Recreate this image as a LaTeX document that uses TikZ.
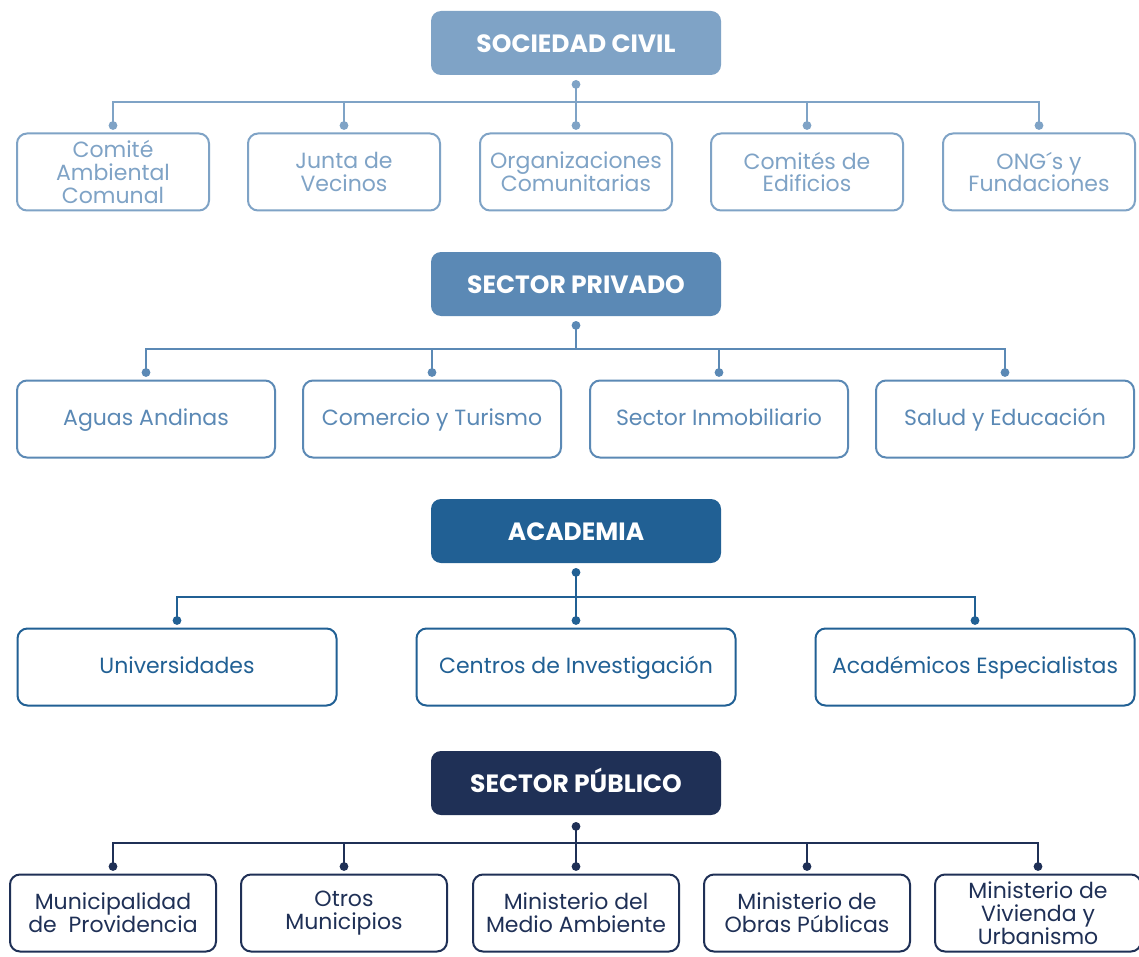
\documentclass[tikz,border=0pt]{standalone}
\usepackage{fontspec}
\setmainfont{Poppins}
\usetikzlibrary{positioning,shapes,arrows.meta,calc}

\definecolor{civil}{HTML}{7FA3C6}
\definecolor{privado}{HTML}{5B89B5}
\definecolor{academia}{HTML}{216094}
\definecolor{publico}{HTML}{1F3056}

\tikzset{
  head/.style={rounded corners=5pt, minimum width=145pt, minimum height=32pt,
    text=white, font=\fontsize{12.5}{14}\selectfont\bfseries, inner sep=0pt,
    text height=1.7ex, text depth=0pt},
  item/.style={draw, rounded corners=5pt, line width=1pt, fill=white,
    minimum height=38.5pt, align=center, inner sep=1pt,
    font=\fontsize{11}{11.4}\selectfont},
  single/.style={text height=1.6ex, text depth=0.45ex},
  lnk/.style={line width=1pt},
}

\begin{document}
\begin{tikzpicture}[x=0.5pt, y=-0.5pt]
				\useasboundingbox[fill=white] (0,0) rectangle (1139,957);

				% sociedad civil
				\node[head, fill=civil] (SC) at (576, 43) {SOCIEDAD CIVIL};
				\node[item, draw=civil, text=civil, minimum width=96pt] (SC1) at (113, 172) {Comité\\Ambiental\\Comunal};
				\node[item, draw=civil, text=civil, minimum width=96pt] (SC2) at (344, 172) {Junta de\\Vecinos};
				\node[item, draw=civil, text=civil, minimum width=96pt] (SC3) at (576, 172) {Organizaciones\\Comunitarias};
				\node[item, draw=civil, text=civil, minimum width=96pt] (SC4) at (807, 172) {Comités de\\Edificios};
				\node[item, draw=civil, text=civil, minimum width=96pt] (SC5) at (1039, 172) {ONG´s y\\Fundaciones};
				\coordinate (SCd) at ([yshift=-4.5pt]SC.south);
				\coordinate (SCbus) at (0, 102);
				\foreach \k in {SC1,SC2,SC3,SC4,SC5} {
					\coordinate (\k d) at ([yshift=3.5pt]\k.north);
					\draw[lnk, civil] (SCd) -- (SCd |- SCbus) -| (\k d);
					\fill[civil] (\k d) circle (2.2pt);
				}
				\fill[civil] (SCd) circle (2.2pt);

				% sector privado
				\node[head, fill=privado] (SP) at (576, 284) {SECTOR PRIVADO};
				\node[item, single, draw=privado, text=privado, minimum width=129pt] (SP1) at (146, 419) {Aguas Andinas};
				\node[item, single, draw=privado, text=privado, minimum width=129pt] (SP2) at (432, 419) {Comercio y Turismo};
				\node[item, single, draw=privado, text=privado, minimum width=129pt] (SP3) at (719, 419) {Sector Inmobiliario};
				\node[item, single, draw=privado, text=privado, minimum width=129pt] (SP4) at (1005, 419) {Salud y Educación};
				\coordinate (SPd) at ([yshift=-4.5pt]SP.south);
				\coordinate (SPbus) at (0, 349);
				\foreach \k in {SP1,SP2,SP3,SP4} {
					\coordinate (\k d) at ([yshift=3.5pt]\k.north);
					\draw[lnk, privado] (SPd) -- (SPd |- SPbus) -| (\k d);
					\fill[privado] (\k d) circle (2.2pt);
				}
				\fill[privado] (SPd) circle (2.2pt);

				% academia
				\node[head, fill=academia] (AC) at (576, 531) {ACADEMIA};
				\node[item, single, draw=academia, text=academia, minimum width=159.5pt] (AC1) at (177, 667) {Universidades};
				\node[item, single, draw=academia, text=academia, minimum width=159.5pt] (AC2) at (576, 667) {Centros de Investigación};
				\node[item, single, draw=academia, text=academia, minimum width=159.5pt] (AC3) at (975, 667) {Académicos Especialistas};
				\coordinate (ACd) at ([yshift=-4.5pt]AC.south);
				\coordinate (ACbus) at (0, 597);
				\foreach \k in {AC1,AC2,AC3} {
					\coordinate (\k d) at ([yshift=3.5pt]\k.north);
					\draw[lnk, academia] (ACd) -- (ACd |- ACbus) -| (\k d);
					\fill[academia] (\k d) circle (2.2pt);
				}
				\fill[academia] (ACd) circle (2.2pt);

				% sector publico
				\node[head, fill=publico] (PU) at (576, 783) {SECTOR PÚBLICO};
				\node[item, draw=publico, text=publico, minimum width=103pt] (PU1) at (113, 913) {Municipalidad\\de~~Providencia};
				\node[item, draw=publico, text=publico, minimum width=103pt] (PU2) at (344, 913) {Otros\\Municipios};
				\node[item, draw=publico, text=publico, minimum width=103pt] (PU3) at (576, 913) {Ministerio del\\Medio Ambiente};
				\node[item, draw=publico, text=publico, minimum width=103pt] (PU4) at (807, 913) {Ministerio de\\Obras Públicas};
				\node[item, draw=publico, text=publico, minimum width=103pt] (PU5) at (1038, 913) {Ministerio de\\Vivienda y\\Urbanismo};
				\coordinate (PUd) at ([yshift=-5.5pt]PU.south);
				\coordinate (PUbus) at (0, 843);
				\foreach \k in {PU1,PU2,PU3,PU4,PU5} {
					\coordinate (\k d) at ([yshift=3.5pt]\k.north);
					\draw[lnk, publico] (PUd) -- (PUd |- PUbus) -| (\k d);
					\fill[publico] (\k d) circle (2.2pt);
				}
				\fill[publico] (PUd) circle (2.2pt);
			\end{tikzpicture}
\end{document}
